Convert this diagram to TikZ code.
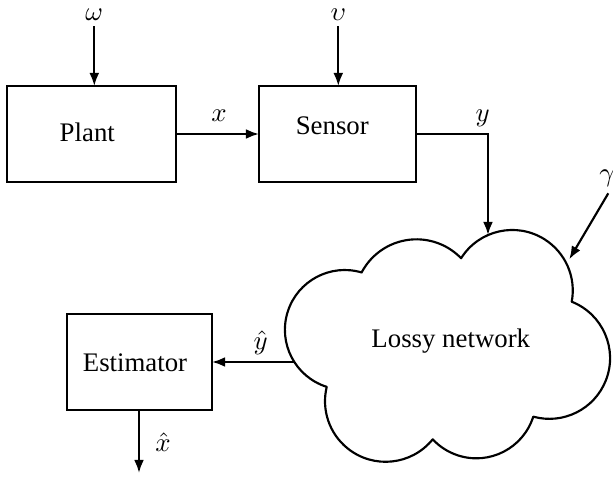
\documentclass[tikz,border=0pt]{standalone}
\usepackage{fontspec}
\setmainfont{Liberation Serif}
\usetikzlibrary{arrows.meta}
\begin{document}
\begin{tikzpicture}[x=0.373pt,y=0.373pt,
  line width=0.8pt,
  blk/.style={draw, inner sep=0pt, outer sep=0pt, minimum height=96*0.373pt},
  txt/.style={inner sep=0pt, anchor=base},
  arr/.style={-{Latex[length=4.9pt,width=3.7pt]}},
  cloudline/.style={draw, line join=round}]
\useasboundingbox (0,0) rectangle (613,477);
% blocks
\node[blk, minimum width=169*0.373pt] (plant) at (91.5,343) {};
\node[blk, minimum width=157*0.373pt] (sensor) at (337.5,343) {};
\node[blk, minimum width=145*0.373pt] (est) at (139.5,115) {};
\node[txt] (plantlbl) at (87.3,336) {Plant};
\node[txt] (sensorlbl) at (332.3,342.7) {Sensor};
\node[txt] (estlbl) at (135,105.3) {Estimator};
% cloud
\path[cloudline] (361.7,204.7)
  arc[start angle=152.1, end angle=44.0, radius=62.0]
  arc[start angle=147.8, end angle=-10.7, radius=60.5]
  arc[start angle=68.4, end angle=-105.4, radius=60.7]
  arc[start angle=-17.6, end angle=-137.0, radius=59.7]
  arc[start angle=-39.0, end angle=-193.7, radius=60.6]
  arc[start angle=-107.5, end angle=-286.5, radius=59.8]
  -- cycle;
\node[txt] (net) at (450.8,129) {Lossy network};
\coordinate (netin) at (488,242);
\coordinate (netg) at (569.3,217.7);
\coordinate (netout) at (294,115);
% free ends
\coordinate (wtop) at (94.3,451);
\coordinate (vtop) at (338.3,451);
\coordinate (gtop) at (608.3,283.7);
\coordinate (ycorner) at (488,343);
\coordinate (xhatend) at (139,4);
% labels
\node[txt] (wl) at (94.3,456.5) {$\omega$};
\node[txt] (vl) at (338.3,456.5) {$\upsilon$};
\node[txt] (xl) at (219,355.3) {$x$};
\node[txt] (yl) at (482.7,355.5) {$y$};
\node[txt] (gl) at (607,295.5) {$\gamma$};
\node[txt] (yhl) at (260.7,127.2) {$\hat{y}$};
\node[txt] (xhl) at (163,25.3) {$\hat{x}$};
% connectors
\draw[arr] (wtop) -- (wtop |- plant.north);
\draw[arr] (vtop) -- (vtop |- sensor.north);
\draw[arr] (plant.east) -- (sensor.west);
\draw[arr] (sensor.east) -- (ycorner) -- (netin);
\draw[arr] (gtop) -- (netg);
\draw[arr] (netout) -- (est.east);
\draw[arr] (est.south -| xhatend) -- (xhatend);
\end{tikzpicture}
\end{document}
